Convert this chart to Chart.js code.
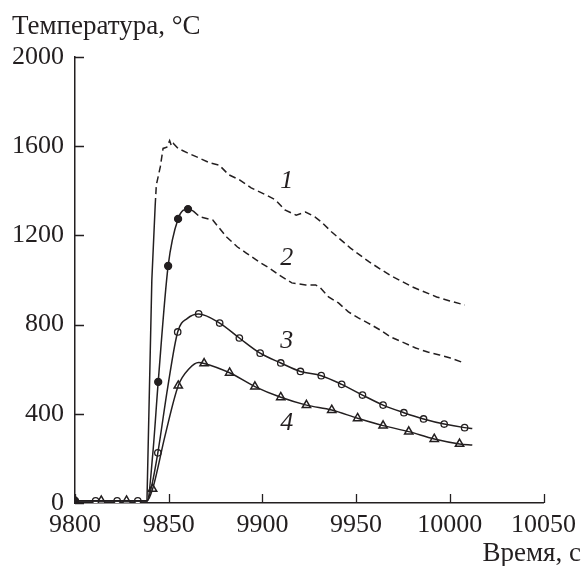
<!DOCTYPE html>
<html>
<head>
<meta charset="utf-8">
<script src="https://cdn.jsdelivr.net/npm/chart.js@4.4.0/dist/chart.umd.min.js"></script>
<style>
  html, body { margin: 0; padding: 0; background: #fff; }
</style>
</head>
<body>
<canvas id="grafica" width="583" height="566"></canvas>
<script>
// ejes
const xTicks = [9800, 9850, 9900, 9950, 10000, 10050];
const yTicks = [0, 400, 800, 1200, 1600, 2000];
const xTitle = 'Время, с';
const yTitle = 'Температура, °С';

// curva 1 (sin marcadores, discontinua)
const c1Time = [9800, 9838.4, 9841.0, 9842.8, 9843.4, 9845.5, 9847, 9849, 9850.5, 9851.5, 9852.5, 9855, 9860, 9866, 9872, 9877, 9882, 9888, 9894, 9902, 9907, 9912, 9918, 9923, 9928, 9931.5, 9937, 9947, 9957, 9968, 9980, 9993, 10000, 10008];
const c1Temp = [10, 10, 1000, 1336, 1426, 1507, 1590, 1596, 1625, 1600, 1612, 1590, 1570, 1548, 1525, 1515, 1472, 1448, 1413, 1381, 1359, 1314, 1291, 1305, 1283, 1260, 1215, 1143, 1081, 1022, 969, 924, 906, 888];

// curva 2 (puntos llenos, luego discontinua)
const c2Time = [9800, 9838.6, 9841.5, 9844.4, 9849.7, 9855, 9860.3, 9863, 9866.6, 9873.5, 9880.9, 9886.7, 9891.4, 9898.3, 9903.6, 9908.9, 9915.7, 9923.1, 9928.4, 9931, 9935.3, 9940.6, 9945.9, 9951.2, 9956.4, 9962.8, 9968.6, 9976, 9981.8, 9988.2, 9994.5, 10000.3, 10007.7];
const c2Temp = [10, 10, 220, 543, 1063, 1274, 1318, 1310, 1283, 1269, 1193, 1148, 1121, 1081, 1054, 1022, 987, 978, 978, 964, 924, 897, 857, 830, 807, 776, 744, 717, 695, 677, 664, 650, 628];
const c2MarkTime = [9800, 9844.4, 9849.7, 9855, 9860.3];
const c2MarkTemp = [10, 543, 1063, 1274, 1318];

// curva 3 (circulos)
const c3Time = [9800, 9838.5, 9841, 9844.2, 9849.5, 9854.8, 9860, 9866, 9877.2, 9887.7, 9898.8, 9909.8, 9920.3, 9931.4, 9942.3, 9953.4, 9964.4, 9975.5, 9986, 9997, 10007.9, 10012];
const c3Temp = [10, 10, 80, 225, 520, 767, 828, 848, 807, 740, 672, 628, 590, 571, 532, 484, 439, 405, 377, 354, 338, 334];
const c3MarkTime = [9811, 9822.5, 9833.5, 9844.2, 9854.8, 9866, 9877.2, 9887.7, 9898.8, 9909.8, 9920.3, 9931.4, 9942.3, 9953.4, 9964.4, 9975.5, 9986, 9997, 10007.9];
const c3MarkTemp = [10, 10, 10, 225, 767, 848, 807, 740, 672, 628, 590, 571, 532, 484, 439, 405, 377, 354, 338];

// curva 4 (triangulos)
const c4Time = [9800, 9838.5, 9841.4, 9848, 9855.1, 9861, 9866, 9868.9, 9882.5, 9896, 9909.8, 9923.5, 9937, 9950.8, 9964.4, 9978.1, 9991.7, 10005.2, 10012];
const c4Temp = [10, 10, 63, 300, 526, 603, 630, 626, 584, 522, 474, 439, 417, 380, 347, 320, 287, 265, 260];
const c4MarkTime = [9800, 9814, 9827.5, 9841.4, 9855.1, 9868.9, 9882.5, 9896, 9909.8, 9923.5, 9937, 9950.8, 9964.4, 9978.1, 9991.7, 10005.2];
const c4MarkTemp = [10, 10, 10, 63, 526, 626, 584, 522, 474, 439, 417, 380, 347, 320, 287, 265];

// donde la linea pasa de continua a discontinua
const c1DashFrom = 9842.8;
const c2DashFrom = 9863;

const ink = '#231f20';
const toPts = (t, v) => t.map((x, i) => ({ x: x, y: v[i] }));
const upTo = (pts, lim) => pts.filter(p => p.x <= lim);
const from = (pts, lim) => pts.filter(p => p.x >= lim);

// etiquetas de las curvas
const curveLabels = [
    { text: '1', t: 9913, v: 1441 },
    { text: '2', t: 9913, v: 1099 },
    { text: '3', t: 9913, v: 724 },
    { text: '4', t: 9913, v: 357 }
];

const extras = {
    id: 'extras',
    afterDraw(chart) {
        const { ctx, chartArea } = chart;
        const x = chart.scales.x, y = chart.scales.y;
        ctx.save();
        ctx.strokeStyle = ink;
        ctx.lineWidth = 1.3;
        ctx.beginPath();
        xTicks.forEach(v => {
            const px = Math.round(x.getPixelForValue(v)) + 0.5;
            ctx.moveTo(px, chartArea.bottom);
            ctx.lineTo(px, chartArea.bottom - 9);
        });
        yTicks.forEach(v => {
            const py = Math.round(y.getPixelForValue(v)) + 0.5;
            ctx.moveTo(chartArea.left, py);
            ctx.lineTo(chartArea.left + 9, py);
        });
        ctx.stroke();

        ctx.fillStyle = ink;
        ctx.font = '27px "Liberation Serif"';
        ctx.textBaseline = 'alphabetic';
        ctx.textAlign = 'left';
        ctx.fillText(yTitle, 12, 34);
        ctx.textAlign = 'right';
        ctx.fillText(xTitle, 581, 561);

        ctx.font = 'italic 26px "Liberation Serif"';
        ctx.textAlign = 'center';
        ctx.textBaseline = 'middle';
        curveLabels.forEach(l => ctx.fillText(l.text, x.getPixelForValue(l.t), y.getPixelForValue(l.v)));
        ctx.restore();
    }
};

Chart.defaults.font.family = '"Liberation Serif", serif';
Chart.defaults.color = ink;

const lineBase = {
    borderColor: ink,
    borderWidth: 1.5,
    pointRadius: 0,
    fill: false,
    showLine: true
};
const markBase = {
    showLine: false,
    borderColor: ink,
    borderWidth: 1.3,
    backgroundColor: '#fff'
};

const c1 = toPts(c1Time, c1Temp);
const c2 = toPts(c2Time, c2Temp);

new Chart(document.getElementById('grafica'), {
    type: 'scatter',
    data: {
        datasets: [
            Object.assign({}, lineBase, { data: upTo(c1, c1DashFrom) }),
            Object.assign({}, lineBase, { data: from(c1, c1DashFrom), borderDash: [7, 4] }),
            Object.assign({}, lineBase, { data: upTo(c2, c2DashFrom), cubicInterpolationMode: 'monotone' }),
            Object.assign({}, lineBase, { data: from(c2, c2DashFrom), borderDash: [7, 4] }),
            Object.assign({}, lineBase, { data: toPts(c3Time, c3Temp), cubicInterpolationMode: 'monotone' }),
            Object.assign({}, lineBase, { data: toPts(c4Time, c4Temp), cubicInterpolationMode: 'monotone' }),
            Object.assign({}, markBase, {
                data: toPts(c2MarkTime, c2MarkTemp),
                pointStyle: 'circle',
                pointRadius: 3.5,
                backgroundColor: ink
            }),
            Object.assign({}, markBase, {
                data: toPts(c3MarkTime, c3MarkTemp),
                pointStyle: 'circle',
                pointRadius: 3.2
            }),
            Object.assign({}, markBase, {
                data: toPts(c4MarkTime, c4MarkTemp),
                pointStyle: 'triangle',
                pointRadius: 4.8,
                borderWidth: 1.5
            })
        ]
    },
    options: {
        responsive: false,
        animation: false,
        layout: { padding: { left: 0, right: 35, top: 57, bottom: 0 } },
        plugins: {
            legend: { display: false },
            tooltip: { enabled: false }
        },
        scales: {
            x: {
                type: 'linear',
                min: 9800,
                max: 10050,
                afterBuildTicks: s => { s.ticks = xTicks.map(v => ({ value: v })); },
                afterFit: s => { s.height = 63; },
                grid: { display: false, drawTicks: false },
                border: { display: true, color: ink, width: 1.5 },
                ticks: { font: { size: 26 }, padding: 7, maxRotation: 0, color: ink, callback: v => String(v) }
            },
            y: {
                min: 0,
                max: 2000,
                afterBuildTicks: s => { s.ticks = yTicks.map(v => ({ value: v })); },
                afterFit: s => { s.width = 75; },
                grid: { display: false, drawTicks: false },
                border: { display: true, color: ink, width: 1.5 },
                ticks: { font: { size: 26 }, padding: 11, color: ink, callback: v => String(v) }
            }
        }
    },
    plugins: [extras]
});
</script>
</body>
</html>
